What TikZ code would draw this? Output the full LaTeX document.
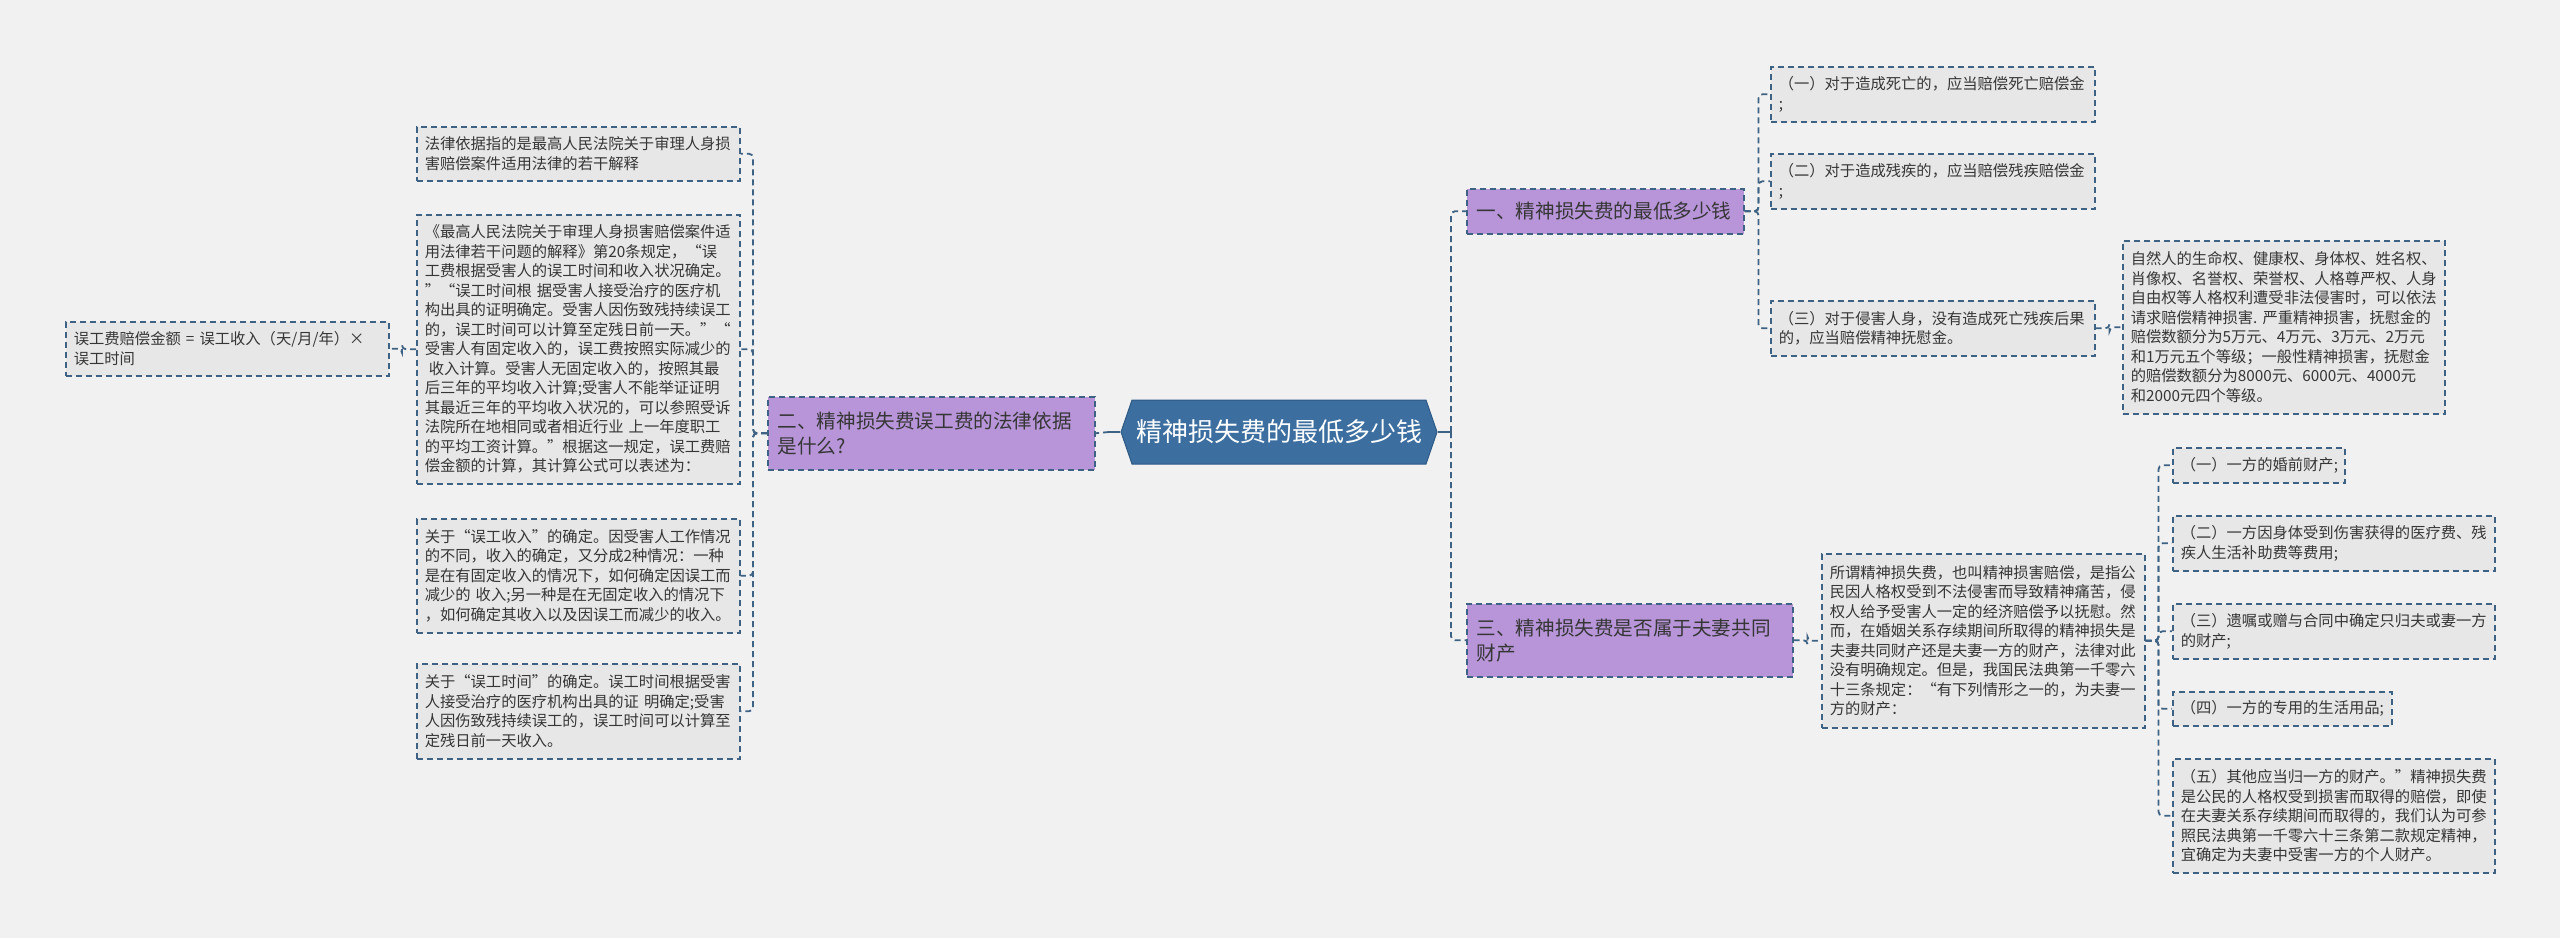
\documentclass[tikz,border=0pt]{standalone}
\usepackage{fontspec}
\newfontfamily\cjk{Noto Sans CJK SC}
\usetikzlibrary{shapes.symbols}
\definecolor{bgc}{HTML}{F1F1F1}
\definecolor{linec}{HTML}{3E6283}
\definecolor{leaffill}{HTML}{E7E7E7}
\definecolor{purplec}{HTML}{B795D8}
\definecolor{centralc}{HTML}{3C6E9F}
\definecolor{centralb}{HTML}{2E5A86}
\definecolor{textc}{HTML}{363636}
\begin{document}
\begin{tikzpicture}[x=1pt,y=-1pt,
  leaf/.style={draw=linec, dash pattern=on 6pt off 4pt, line width=1.5pt, fill=leaffill, anchor=north west, inner xsep=8pt, inner ysep=0pt, align=left, text=textc, font=\cjk\fontsize{15.3}{19.5}\selectfont},
  topic/.style={draw=linec, dash pattern=on 6pt off 4pt, line width=1.5pt, fill=purplec, anchor=north west, inner xsep=10pt, inner ysep=0pt, align=left, text=textc, font=\cjk\fontsize{19.6}{25}\selectfont},
  conn/.style={draw=linec, line width=1.8pt, dash pattern=on 6pt off 4pt, rounded corners=4pt},
  mainconn/.style={draw=linec, line width=2pt},
]
\fill[bgc] (0,0) rectangle (2560,938);
\useasboundingbox (0,0) rectangle (2560,938);

% central
\node[shape=signal, signal from=nowhere, signal to=east and west, signal pointer angle=142,
  fill=centralc, draw=centralb, line width=1pt, minimum width=316pt, minimum height=64pt,
  inner sep=0pt, text=white, font=\cjk\fontsize{26}{30}\selectfont] (c) at (1279,432) {精神损失费的最低多少钱};

% level 1
\node[topic, text width=307pt, minimum height=73pt] (n2) at (767,396) {二、精神损失费误工费的法律依据\\是什么?};
\node[topic, text width=257pt, minimum height=45pt] (n1) at (1466,188) {一、精神损失费的最低多少钱};
\node[topic, text width=306pt, minimum height=73pt] (n3) at (1466,603) {三、精神损失费是否属于夫妻共同\\财产};

% left leaves
\node[leaf, text width=307pt, minimum height=54pt] (A) at (416,126) {法律依据指的是最高人民法院关于审理人身损\\害赔偿案件适用法律的若干解释};
\node[leaf, text width=307pt, minimum height=269pt] (B) at (416,214) {《最高人民法院关于审理人身损害赔偿案件适\\用法律若干问题的解释》第20条规定，“误\\工费根据受害人的误工时间和收入状况确定。\\”“误工时间根~据受害人接受治疗的医疗机\\构出具的证明确定。受害人因伤致残持续误工\\的，误工时间可以计算至定残日前一天。”“\\受害人有固定收入的，误工费按照实际减少的\\\hspace*{4pt}收入计算。受害人无固定收入的，按照其最\\后三年的平均收入计算;受害人不能举证证明\\其最近三年的平均收入状况的，可以参照受诉\\法院所在地相同或者相近行业~上一年度职工\\的平均工资计算。”根据这一规定，误工费赔\\偿金额的计算，其计算公式可以表述为：};
\node[leaf, text width=307pt, minimum height=114pt] (C) at (416,518) {关于“误工收入”的确定。因受害人工作情况\\的不同，收入的确定，又分成2种情况：一种\\是在有固定收入的情况下，如何确定因误工而\\减少的~收入;另一种是在无固定收入的情况下\\，如何确定其收入以及因误工而减少的收入。};
\node[leaf, text width=307pt, minimum height=95pt] (D) at (416,663) {关于“误工时间”的确定。误工时间根据受害\\人接受治疗的医疗机构出具的证~明确定;受害\\人因伤致残持续误工的，误工时间可以计算至\\定残日前一天收入。};
\node[leaf, text width=307pt, minimum height=54pt] (E) at (65,321) {误工费赔偿金额~=~误工收入（天/月/年）×\\误工时间};

% right top leaves
\node[leaf, text width=308pt, minimum height=55pt] (c1) at (1770,66) {（一）对于造成死亡的，应当赔偿死亡赔偿金\\;};
\node[leaf, text width=308pt, minimum height=55pt] (c2) at (1770,153) {（二）对于造成残疾的，应当赔偿残疾赔偿金\\;};
\node[leaf, text width=308pt, minimum height=55pt] (c3) at (1770,300) {（三）对于侵害人身，没有造成死亡残疾后果\\的，应当赔偿精神抚慰金。};
\node[leaf, text width=306pt, minimum height=173pt] (f) at (2122,240) {自然人的生命权、健康权、身体权、姓名权、\\肖像权、名誉权、荣誉权、人格尊严权、人身\\自由权等人格权利遭受非法侵害时，可以依法\\请求赔偿精神损害.~严重精神损害，抚慰金的\\赔偿数额分为5万元、4万元、3万元、2万元\\和1万元五个等级；一般性精神损害，抚慰金\\的赔偿数额分为8000元、6000元、4000元\\和2000元四个等级。};

% right bottom leaves
\node[leaf, text width=307pt, minimum height=174pt] (g) at (1821,553) {所谓精神损失费，也叫精神损害赔偿，是指公\\民因人格权受到不法侵害而导致精神痛苦，侵\\权人给予受害人一定的经济赔偿予以抚慰。然\\而，在婚姻关系存续期间所取得的精神损失是\\夫妻共同财产还是夫妻一方的财产，法律对此\\没有明确规定。但是，我国民法典第一千零六\\十三条规定：“有下列情形之一的，为夫妻一\\方的财产：};
\node[leaf, text width=156pt, minimum height=35pt] (d1) at (2172,447) {（一）一方的婚前财产;};
\node[leaf, text width=306pt, minimum height=55pt] (d2) at (2172,515) {（二）一方因身体受到伤害获得的医疗费、残\\疾人生活补助费等费用;};
\node[leaf, text width=306pt, minimum height=55pt] (d3) at (2172,603) {（三）遗嘱或赠与合同中确定只归夫或妻一方\\的财产;};
\node[leaf, text width=203pt, minimum height=34pt] (d4) at (2172,691) {（四）一方的专用的生活用品;};
\node[leaf, text width=306pt, minimum height=114pt] (d5) at (2172,758) {（五）其他应当归一方的财产。”精神损失费\\是公民的人格权受到损害而取得的赔偿，即使\\在夫妻关系存续期间而取得的，我们认为可参\\照民法典第一千零六十三条第二款规定精神，\\宜确定为夫妻中受害一方的个人财产。};

% connectors
\coordinate (cL) at (1109,432);
\coordinate (cR) at (1451,432);
\draw[mainconn] (c.west) -- (cL);
\draw[conn] (cL) -- (n2.east);
\draw[mainconn] (c.east) -- (cR);
\draw[conn] (cR) |- (n1.west);
\draw[conn] (cR) |- (n3.west);

\draw[conn] (n2.west) -- ++(-14,0) |- (A.east);
\draw[conn] (n2.west) -- ++(-14,0) |- (B.east);
\draw[conn] (n2.west) -- ++(-14,0) |- (C.east);
\draw[conn] (n2.west) -- ++(-14,0) |- (D.east);
\draw[conn] (B.west) -- ++(-14,0) |- (E.east);

\draw[conn] (n1.east) -- ++(14,0) |- (c1.west);
\draw[conn] (n1.east) -- ++(14,0) |- (c2.west);
\draw[conn] (n1.east) -- ++(14,0) |- (c3.west);
\draw[conn] (c3.east) -- ++(14,0) |- (f.west);

\draw[conn] (n3.east) -- ++(14,0) |- (g.west);
\draw[conn] (g.east) -- ++(13,0) |- (d1.west);
\draw[conn] (g.east) -- ++(13,0) |- (d2.west);
\draw[conn] (g.east) -- ++(13,0) |- (d3.west);
\draw[conn] (g.east) -- ++(13,0) |- (d4.west);
\draw[conn] (g.east) -- ++(13,0) |- (d5.west);
\end{tikzpicture}
\end{document}
